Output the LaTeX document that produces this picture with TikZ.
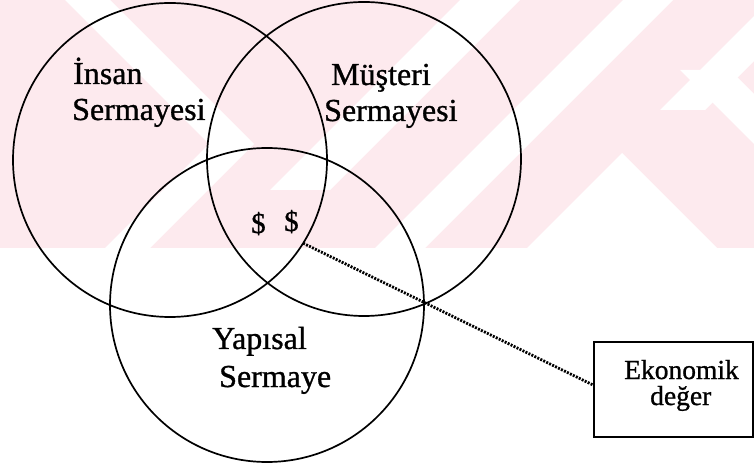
\documentclass[tikz,border=0pt]{standalone}
\usepackage{fontspec}
\setmainfont{Liberation Serif}
\newfontfamily\inkfont{Liberation Serif}[FakeBold=0.9]
\definecolor{wmpink}{RGB}{253,234,238}
\tikzset{
  ring/.style={circle, draw=black, line width=1.7bp, minimum size=314bp, inner sep=0pt, outer sep=0pt},
  bigtxt/.style={font=\inkfont\fontsize{32bp}{37bp}\selectfont, inner sep=0pt, anchor=base west},
  boxtxt/.style={font=\inkfont\fontsize{27.5bp}{30bp}\selectfont, inner sep=0pt, anchor=base west},
  valuebox/.style={rectangle, draw=black, line width=1.5bp, minimum width=159bp, minimum height=95bp, inner sep=0pt, outer sep=0pt},
  dotline/.style={line width=2.8bp, dash pattern=on 2bp off 1.3bp}
}
\begin{document}
\begin{tikzpicture}[x=1bp, y=-1bp]
\useasboundingbox (0,0) rectangle (754,463);
\fill[white] (0,0) rectangle (754,463);

% light background pattern in the upper band
\begin{scope}
  \clip (0,0) rectangle (754,248);
  \fill[wmpink] (0,0) rectangle (754,248);
  \fill[white] (65,0) -- (110,0) -- (254,144) -- (150,248) -- (105,248) -- (209,144) -- cycle;
  \fill[white] (460,0) -- (520,0) -- (330,190) -- (270,190) -- cycle;
  \fill[white] (623,0) -- (673,0) -- (425,248) -- (375,248) -- cycle;
  \fill[white] (770,0) -- (815,0) -- (705,110) -- (660,110) -- cycle;
  \fill[white] (680,70) -- (730,70) -- (910,250) -- (860,250) -- cycle;
  \fill[white] (622,153) -- (717,248) -- (527,248) -- cycle;
\end{scope}

% the three capital circles
\node[ring] (L) at (170,160) {};
\node[ring] (R) at (364,159) {};
\node[ring] (B) at (267,305) {};

% circle labels
\node[bigtxt] (l1) at (73,84) {İnsan};
\node[bigtxt] (l2) at (72,120) {Sermayesi};
\node[bigtxt] (r1) at (331,85) {Müşteri};
\node[bigtxt] (r2) at (324,121) {Sermayesi};
\node[bigtxt] (b1) at (212,349) {Yapısal};
\node[bigtxt] (b2) at (219,387) {Sermaye};

% value symbols in the common area
\node[bigtxt, font=\inkfont\fontsize{29bp}{30bp}\selectfont] (d1) at (251,233) {\$};
\node[bigtxt, font=\inkfont\fontsize{29bp}{30bp}\selectfont] (d2) at (284,231) {\$};

% economic value box
\node[valuebox] (box) at (673.5,389.5) {};
\node[boxtxt] (e1) at (624,379) {Ekonomik};
\node[boxtxt] (e2) at (650,405) {değer};

% dotted connector
\draw[dotline] (L.-32) -- ([yshift=4bp]box.west);
\end{tikzpicture}
\end{document}
